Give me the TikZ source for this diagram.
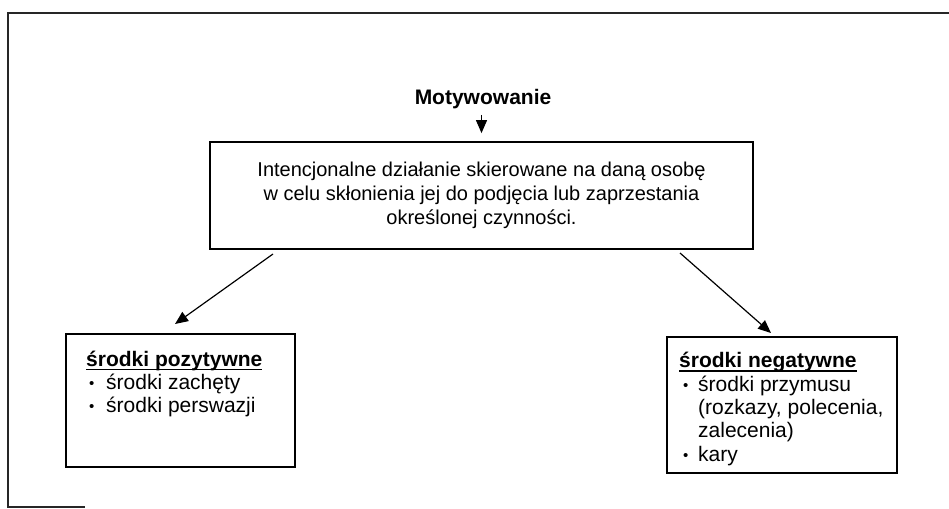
\documentclass[tikz,border=0pt]{standalone}
\usepackage{fontspec}
\setmainfont{Liberation Sans}
\usetikzlibrary{arrows.meta}
\newsavebox{\myulbox}
\newcommand{\myul}[1]{\sbox{\myulbox}{#1}\rlap{\rule[-3.8pt]{\wd\myulbox}{1.3pt}}\usebox{\myulbox}}
\newcommand{\bul}{{\fontsize{15}{15}\selectfont\raisebox{1pt}{•}}}
\begin{document}
\begin{tikzpicture}[x=1pt,y=-1pt,
  box/.style={draw, line width=1.8pt, inner sep=0pt},
  txt/.style={font=\fontsize{20}{24}\selectfont, inner sep=0pt},
  side/.style={font=\fontsize{21}{23.3}\selectfont, inner sep=0pt, anchor=base west, align=left},
  arr/.style={line width=1.2pt, -{Triangle[length=13pt,width=11pt]}},
  frame/.style={line width=1.1pt, draw=black!85}]
\useasboundingbox (0,0) rectangle (949,508);
\draw[frame] (949,13) -- (8,13) -- (8,507) -- (85,507);
\node[txt, font=\fontsize{21}{24}\selectfont\bfseries] (title) at (483,99) {Motywowanie};
\node[box, minimum width=543pt, minimum height=107pt] (main) at (481.5,195.5) {};
\node[txt, align=center] (maintext) at (main.center) {Intencjonalne działanie skierowane na daną osobę\\ w celu skłonienia jej do podjęcia lub zaprzestania\\ określonej czynności.};
\node[box, minimum width=229pt, minimum height=133pt] (pos) at (180.5,400.5) {};
\node[box, minimum width=230pt, minimum height=136pt] (neg) at (782,405) {};
\node[side] (postext) at (86,412.6) {\myul{\textbf{środki pozytywne}}\\
\hspace*{3pt}\makebox[17pt][l]{\bul}środki zachęty\\
\hspace*{3pt}\makebox[17pt][l]{\bul}środki perswazji};
\node[side] (negtext) at (679,461) {\myul{\textbf{środki negatywne}}\\
\hspace*{4pt}\makebox[15pt][l]{\bul}środki przymusu\\
\hspace*{19pt}(rozkazy, polecenia,\\
\hspace*{19pt}zalecenia)\\
\hspace*{4pt}\makebox[15pt][l]{\bul}kary};
\coordinate (l1) at (273,254);
\coordinate (l2) at (175,324);
\coordinate (r1) at (680,253);
\coordinate (r2) at (771,333);
\draw[arr, shorten <=6pt, shorten >=8pt] (title.south -| main.north) -- (main.north);
\draw[arr] (l1) -- (l2);
\draw[arr] (r1) -- (r2);
\end{tikzpicture}
\end{document}
